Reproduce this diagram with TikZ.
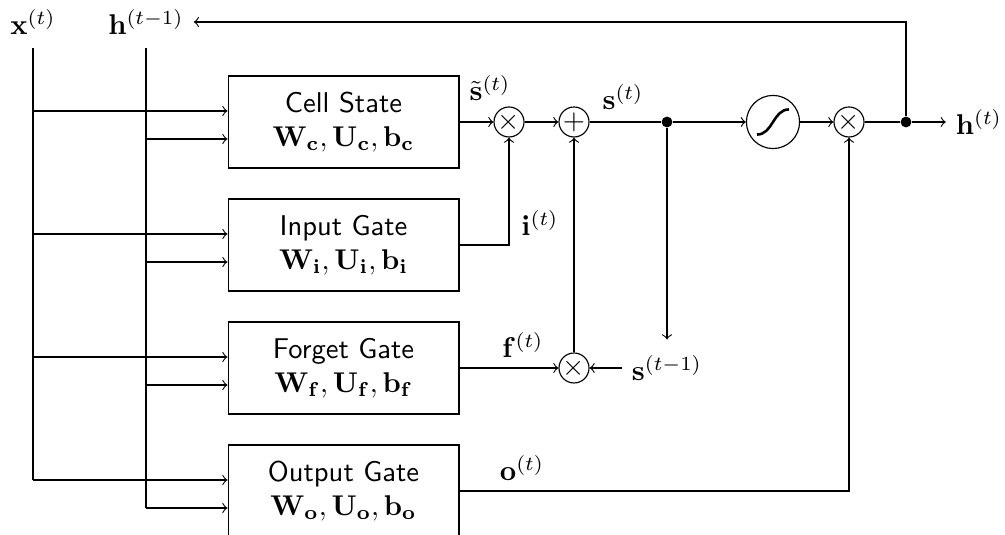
\documentclass[tikz,border=0pt]{standalone}
\usepackage{amsmath}
\usepackage{amssymb}
\usepackage{tikz}

\begin{document}
\begin{tikzpicture}[x=0.35pt,y=-0.35pt,
  gatebox/.style={draw,rectangle,minimum width=80.8pt,minimum height=32.2pt,align=center,font=\sffamily},
  opnode/.style={draw,circle,inner sep=0pt,minimum size=10.5pt},
  sigmnode/.style={draw,circle,inner sep=0pt,minimum size=18.6pt,
    path picture={\draw[line width=0.9pt] ([shift={(-5.6pt,-4.4pt)}]path picture bounding box.center) .. controls ([shift={(0pt,-4.4pt)}]path picture bounding box.center) and ([shift={(0pt,4.4pt)}]path picture bounding box.center) .. ([shift={(5.6pt,4.4pt)}]path picture bounding box.center);}},
  junction/.style={fill,circle,inner sep=0pt,minimum size=3.8pt}]
\useasboundingbox (0,0) rectangle (1005,535);

\node (xt) at (33,22) {$\mathbf{x}^{(t)}$};
\node (hprev) at (146,22) {$\mathbf{h}^{(t-1)}$};

\node[gatebox] (cell) at (343.5,122) {Cell State\\$\mathbf{W_c},\mathbf{U_c},\mathbf{b_c}$};
\node[gatebox] (input) at (343.5,245) {Input Gate\\$\mathbf{W_i},\mathbf{U_i},\mathbf{b_i}$};
\node[gatebox] (forget) at (343.5,368) {Forget Gate\\$\mathbf{W_f},\mathbf{U_f},\mathbf{b_f}$};
\node[gatebox] (output) at (343.5,491) {Output Gate\\$\mathbf{W_o},\mathbf{U_o},\mathbf{b_o}$};

\node[opnode] (mulc) at (509,122) {$\times$};
\node[opnode] (add) at (574,122) {$+$};
\node[junction] (split) at (667,122) {};
\node[sigmnode] (sig) at (773,122) {};
\node[opnode] (mulo) at (849,122) {$\times$};
\node[junction] (hsplit) at (906,122) {};
\node (ht) at (979,122) {$\mathbf{h}^{(t)}$};

\node[opnode] (mulf) at (574,368) {$\times$};
\node (sprev) at (667,368) {$\mathbf{s}^{(t-1)}$};

\node (stilde) at (490,88) {$\tilde{\mathbf{s}}^{(t)}$};
\node (st) at (623,97) {$\mathbf{s}^{(t)}$};
\node (it) at (540,223) {$\mathbf{i}^{(t)}$};
\node (ft) at (523,345) {$\mathbf{f}^{(t)}$};
\node (ot) at (522,468) {$\mathbf{o}^{(t)}$};

\foreach \g/\y in {cell/122,input/245,forget/368,output/491}{
  \coordinate (\g-x) at (33,\y-11);
  \coordinate (\g-h) at (146,\y+17);
  \draw[->] (\g-x) -- (\g-x -| \g.west);
  \draw[->] (\g-h) -- (\g-h -| \g.west);
}
\draw ([yshift=-1pt]xt.south) -- (output-x);
\draw ([yshift=-1pt]hprev.south) -- (output-h);

\draw[->] (cell) -- (mulc);
\draw[->] (mulc) -- (add);
\draw (add) -- (split);
\draw[->] (split) -- (sig);
\draw[->] (sig) -- (mulo);
\draw (mulo) -- (hsplit);
\draw[->] (hsplit) -- (ht);
\draw[->] (hsplit) |- (hprev);
\draw[->] (input) -| (mulc);
\draw[->] (forget) -- (mulf);
\draw[->] (mulf) -- (add);
\draw[->] (sprev) -- (mulf);
\draw[->,shorten >=2pt] (split) -- (sprev);
\draw[->] (output) -| (mulo);
\end{tikzpicture}
\end{document}
